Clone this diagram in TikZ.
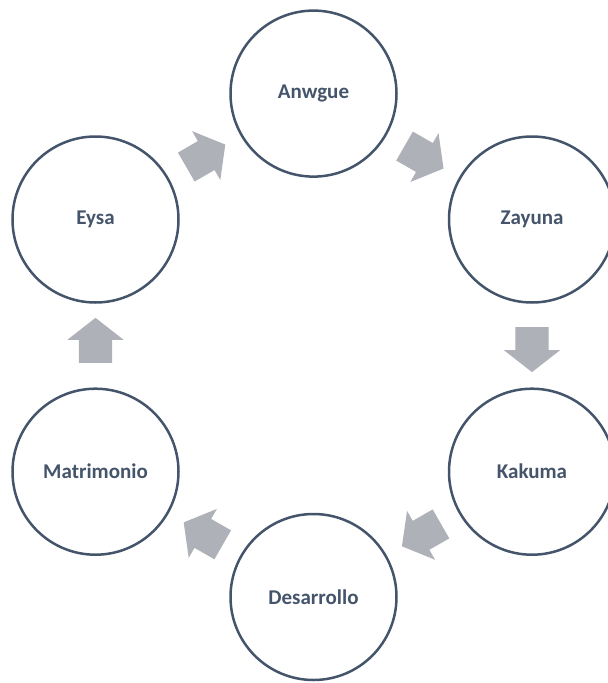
\documentclass[tikz,border=0pt]{standalone}
\usepackage{fontspec}
\setmainfont{Carlito}
\usetikzlibrary{calc,shapes.arrows}
\definecolor{stageline}{HTML}{44546A}
\definecolor{arrowgrey}{HTML}{AEB1B8}
\tikzset{
  stage/.style={circle, draw=stageline, line width=2.5pt, minimum size=166pt, inner sep=0pt,
    text=stageline, font=\fontsize{21}{25}\selectfont\bfseries},
  cyclearrow/.style={single arrow, fill=arrowgrey, draw=none, minimum height=45pt,
    minimum width=56pt, single arrow head extend=11.5pt, single arrow tip angle=104,
    inner xsep=0pt, inner ysep=16.5pt}
}
% block arrow a bit before half way between two stages
\newcommand{\stagearrow}[3][0.485]{%
  \path let \p1=(#2.center), \p2=(#3.center), \n1={atan2(\y2-\y1,\x2-\x1)} in
    node[cyclearrow, rotate=\n1] (#2-#3) at ($(#2.center)!#1!(#3.center)$) {};}

\begin{document}
\begin{tikzpicture}[x=1pt,y=-1pt]
\useasboundingbox (0,0) rectangle (608,683);
\pgfmathsetmacro{\xl}{95.5}
\pgfmathsetmacro{\xm}{313.5}
\pgfmathsetmacro{\xr}{532}
\node[stage] (anwgue)     at (\xm,93.6)  {Anwgue};
\node[stage] (zayuna)     at (\xr,219.5) {Zayuna};
\node[stage] (kakuma)     at (\xr,471.7) {Kakuma};
\node[stage] (desarrollo) at (\xm,597)   {Desarrollo};
\node[stage] (matrimonio) at (\xl,471.7) {Matrimonio};
\node[stage] (eysa)       at (\xl,219.5) {Eysa};
\stagearrow[0.48]{eysa}{anwgue}
\stagearrow[0.48]{anwgue}{zayuna}
\stagearrow[0.49]{zayuna}{kakuma}
\stagearrow[0.48]{kakuma}{desarrollo}
\stagearrow[0.48]{desarrollo}{matrimonio}
\stagearrow[0.495]{matrimonio}{eysa}
\end{tikzpicture}
\end{document}
